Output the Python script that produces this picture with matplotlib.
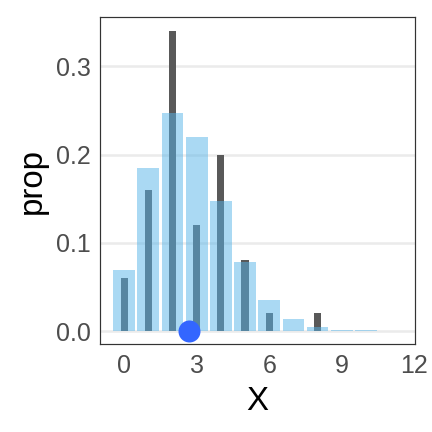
import matplotlib
matplotlib.use("Agg")
import matplotlib.pyplot as plt

plt.rcParams['font.family'] = ['Liberation Sans', 'DejaVu Sans']

# model probabilities (light bars)
x_model = [0, 1, 2, 3, 4, 5, 6, 7, 8, 9, 10]
p_model = [0.0693, 0.185, 0.247, 0.220, 0.147, 0.078, 0.035, 0.0134, 0.0045, 0.0015, 0.0012]

# observed proportions (dark bars)
x_obs = [0, 1, 2, 3, 4, 5, 6, 8]
p_obs = [0.06, 0.16, 0.34, 0.12, 0.20, 0.08, 0.02, 0.02]

# sample mean
x_mean = 2.68

fig = plt.figure(figsize=(6, 6), dpi=72)
ax = fig.add_axes([0.2315, 0.2037, 0.7291, 0.7569])

for yv in [0.0, 0.1, 0.2, 0.3]:
    ax.axhline(yv, color='#EBEBEB', lw=2.5, zorder=0)

ax.bar(x_obs, p_obs, width=0.3, color='#595959', zorder=2)
ax.bar(x_model, p_model, width=0.9, color='#56B4E9', alpha=0.5, zorder=3)
ax.plot([x_mean], [0], 'o', color='#3366FF', markersize=22, markeredgewidth=0, zorder=4, clip_on=False)

ax.set_xlim(-1.0, 12.03)
ax.set_ylim(-0.0147, 0.356)
ax.set_xticks([0, 3, 6, 9, 12])
ax.set_yticks([0.0, 0.1, 0.2, 0.3])
ax.set_yticklabels(['0.0', '0.1', '0.2', '0.3'])
ax.tick_params(length=0, labelsize=25, colors='#4D4D4D')
ax.tick_params(axis='y', pad=9)
ax.tick_params(axis='x', pad=10)
for s in ax.spines.values():
    s.set_color('#333333')
    s.set_linewidth(1.2)

ax.set_xlabel('X', fontsize=33, labelpad=8)
ax.set_ylabel('prop', fontsize=33, labelpad=8)

fig.savefig('out.png', dpi=72)
